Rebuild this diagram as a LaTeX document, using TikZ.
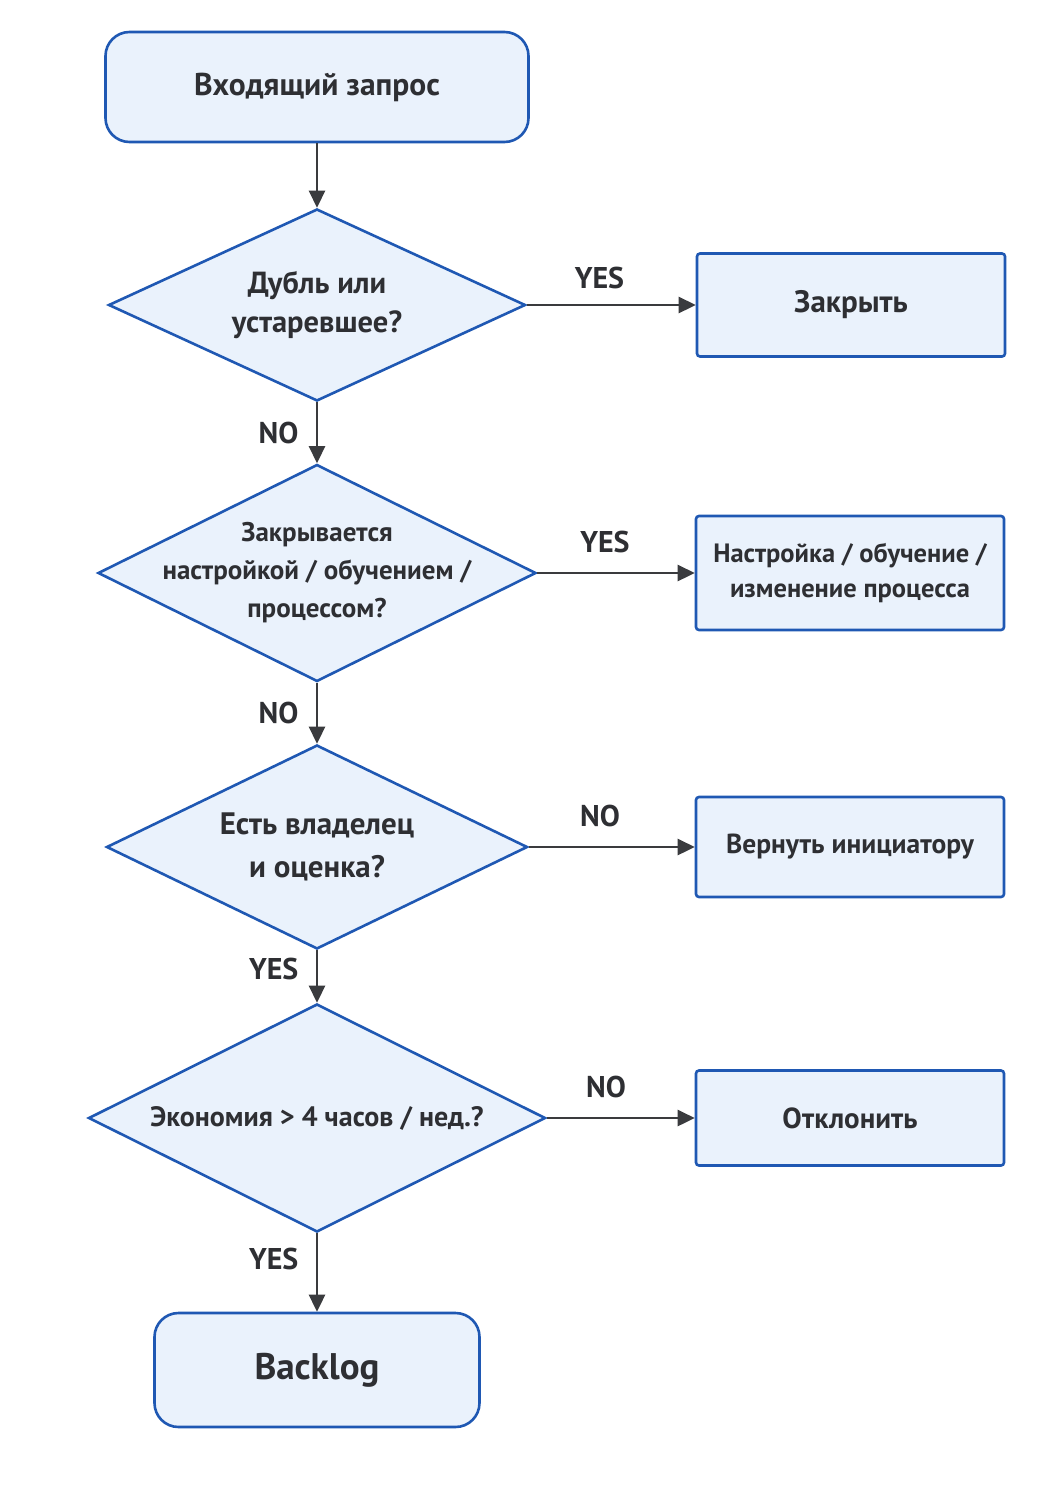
\documentclass[tikz,border=0pt]{standalone}
\usepackage{fontspec}
\setmainfont{PT Sans}
\usetikzlibrary{arrows.meta, shapes.geometric, positioning}
\definecolor{lineblue}{HTML}{1F58B3}
\definecolor{fillblue}{HTML}{EAF2FC}
\definecolor{textgray}{HTML}{2E2F33}
\definecolor{arrowgray}{HTML}{3A3B3E}

\begin{document}
\begin{tikzpicture}[x=1pt, y=-1pt,
    box/.style={draw=lineblue, fill=fillblue, line width=2.6pt, text=textgray,
        font=\bfseries\fontsize{29}{39}\selectfont, align=center},
    terminal/.style={box, rounded corners=24pt},
    action/.style={box, rounded corners=3pt, minimum width=308pt},
    decision/.style={box, diamond, inner sep=-90pt},
    flow/.style={draw=arrowgray, line width=2.6pt, -{Triangle[length=17pt,width=16pt]}},
    lbl/.style={text=textgray, font=\bfseries\fontsize{30}{34}\selectfont}]
    \useasboundingbox[fill=white] (0,0) rectangle (1055,1491);

    % main column
    \node[terminal, minimum width=423pt, minimum height=110pt, font=\bfseries\fontsize{31.5}{38}\selectfont] (start) at (317,87) {Входящий запрос};
    \node[decision, minimum width=417pt, minimum height=192pt, font=\bfseries\fontsize{30.5}{39}\selectfont] (dup) at (317,305) {Дубль или\\устаревшее?};
    \node[decision, minimum width=438pt, minimum height=217pt, font=\bfseries\fontsize{27}{38}\selectfont] (proc) at (317,573) {Закрывается\\настройкой / обучением /\\процессом?};
    \node[decision, minimum width=421pt, minimum height=204pt, font=\bfseries\fontsize{31}{43}\selectfont] (owner) at (317,847) {Есть владелец\\и оценка?};
    \node[decision, minimum width=457pt, minimum height=228pt, font=\bfseries\fontsize{28}{38}\selectfont] (save) at (317,1118) {Экономия > 4 часов / нед.?};
    \node[terminal, minimum width=325pt, minimum height=114pt, font=\bfseries\fontsize{37}{40}\selectfont] (backlog) at (317,1370) {Backlog};

    % right column
    \node[action, minimum height=103pt, font=\bfseries\fontsize{31}{38}\selectfont] (close) at (851,305) {Закрыть};
    \node[action, minimum height=114pt, font=\bfseries\fontsize{26.5}{35}\selectfont] (tune) at (850,573) {Настройка / обучение /\\изменение процесса};
    \node[action, minimum height=100pt, font=\bfseries\fontsize{27.5}{38}\selectfont] (back) at (850,847) {Вернуть инициатору};
    \node[action, minimum height=95pt] (reject) at (850,1118) {Отклонить};

    % connectors
    \draw[flow] (start) -- (dup);
    \draw[flow] (dup) -- node[lbl, left=14pt] {NO} (proc);
    \draw[flow] (proc) -- node[lbl, left=14pt] {NO} (owner);
    \draw[flow] (owner) -- node[lbl, left=14pt, pos=0.35] {YES} (save);
    \draw[flow] (save) -- node[lbl, left=14pt, pos=0.33] {YES} (backlog);

    \draw[flow] (dup) -- node[lbl, above=11pt, pos=0.43] {YES} (close);
    \draw[flow] (proc) -- node[lbl, above=15pt, pos=0.43] {YES} (tune);
    \draw[flow] (owner) -- node[lbl, above=15pt, pos=0.43] {NO} (back);
    \draw[flow] (save) -- node[lbl, above=15pt, pos=0.4] {NO} (reject);
\end{tikzpicture}
\end{document}
